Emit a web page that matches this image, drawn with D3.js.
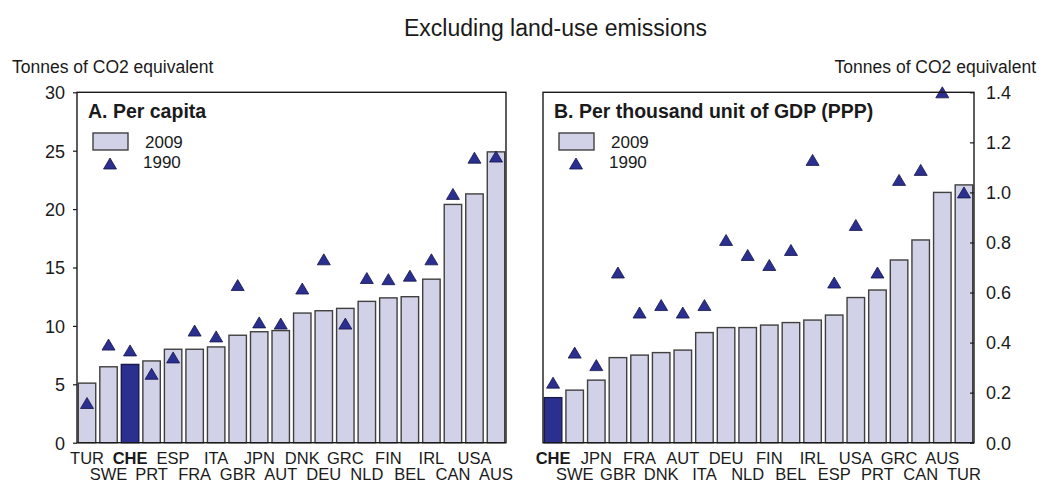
<!DOCTYPE html>
<html><head><meta charset="utf-8">
<script src="https://cdn.jsdelivr.net/npm/d3@7"></script>
<style>
html,body{margin:0;padding:0;background:#fff;}
text{font-family:"Liberation Sans",Arial,sans-serif;fill:#1a1a1a;}
</style></head>
<body><svg id="c" width="1057" height="481"></svg>
<script>
// Panel A: per capita
const catsA = ["TUR","SWE","CHE","PRT","ESP","FRA","ITA","GBR","JPN","AUT","DNK","DEU","GRC","NLD","FIN","BEL","IRL","CAN","USA","AUS"];
const valsA2009 = [5.1,6.5,6.7,7.0,8.0,8.0,8.2,9.2,9.5,9.6,11.1,11.3,11.5,12.1,12.4,12.5,14.0,20.4,21.3,24.9];
const valsA1990 = [3.4,8.4,7.9,5.9,7.3,9.6,9.1,13.5,10.3,10.2,13.2,15.7,10.2,14.1,14.0,14.3,15.7,21.3,24.4,24.5];
const ticksA = [0,5,10,15,20,25,30];
// Panel B: per thousand unit of GDP (PPP)
const catsB = ["CHE","SWE","JPN","GBR","FRA","DNK","AUT","ITA","DEU","NLD","FIN","BEL","IRL","ESP","USA","PRT","GRC","CAN","AUS","TUR"];
const valsB2009 = [0.18,0.21,0.25,0.34,0.35,0.36,0.37,0.44,0.46,0.46,0.47,0.48,0.49,0.51,0.58,0.61,0.73,0.81,1.00,1.03];
const valsB1990 = [0.24,0.36,0.31,0.68,0.52,0.55,0.52,0.55,0.81,0.75,0.71,0.77,1.13,0.64,0.87,0.68,1.05,1.09,1.40,1.00];
const ticksB = [0,0.2,0.4,0.6,0.8,1.0,1.2,1.4];
const highlight = "CHE";
const seriesLabels = ["2009","1990"];
const mainTitle = "Excluding land-use emissions";
const unitLabel = "Tonnes of CO2 equivalent";
const titleA = "A. Per capita";
const titleB = "B. Per thousand unit of GDP (PPP)";

const svg = d3.select("#c");
const barFill = "#d1d1e8", barStroke = "#404040", darkBlue = "#2b2f8f";
const plotTop = 92.3, plotBottom = 442.7;

svg.append("text").attr("x",555.5).attr("y",36).attr("text-anchor","middle")
  .style("font-size","23px").text(mainTitle);

function tri(cx, cy, w, h){
  return `M${cx},${cy-h/2}L${cx+w/2},${cy+h/2}L${cx-w/2},${cy+h/2}Z`;
}

function panel(cats, v2009, v1990, ticks, x0, x1, ymax, side, title, fmt){
  const x = d3.scaleBand().domain(cats).range([x0,x1]).paddingInner(0.19).paddingOuter(0.06);
  const y = d3.scaleLinear().domain([0,ymax]).range([plotBottom,plotTop]);
  const g = svg.append("g");
  g.selectAll("rect.bar").data(cats).join("rect").attr("class","bar")
    .attr("x",d=>x(d)).attr("width",x.bandwidth())
    .attr("y",(d,i)=>y(v2009[i])).attr("height",(d,i)=>y(0)-y(v2009[i]))
    .attr("fill",d=>d===highlight?darkBlue:barFill)
    .attr("stroke",d=>d===highlight?"#1a1a4a":barStroke).attr("stroke-width",1.4);
  g.selectAll("path.tri").data(cats).join("path").attr("class","tri")
    .attr("d",(d,i)=>tri(x(d)+x.bandwidth()/2, y(v1990[i]), 13, 11))
    .attr("fill",darkBlue).attr("stroke","#15154a").attr("stroke-width",0.8);
  g.append("rect").attr("x",x0).attr("y",plotTop).attr("width",x1-x0).attr("height",plotBottom-plotTop)
    .attr("fill","none").attr("stroke","#1a1a1a").attr("stroke-width",1.4);
  if(side==="left"){
    const ax = d3.axisLeft(y).tickValues(ticks).tickSize(4).tickFormat(fmt);
    const a = g.append("g").attr("transform",`translate(${x0},0)`).call(ax);
    a.select(".domain").remove();
    a.selectAll("text").style("font-size","18px").attr("x",-12).attr("dy","0.35em");
  } else {
    const ax = d3.axisRight(y).tickValues(ticks).tickSize(-4).tickFormat(fmt);
    const a = g.append("g").attr("transform",`translate(${x1},0)`).call(ax);
    a.select(".domain").remove();
    a.selectAll("text").style("font-size","18px").attr("x",12).attr("dy","0.35em");
  }
  g.selectAll("g.tick line").attr("stroke","#1a1a1a").attr("stroke-width",1.2);
  g.selectAll("text.xl").data(cats).join("text").attr("class","xl")
    .attr("x",d=>x(d)+x.bandwidth()/2)
    .attr("y",(d,i)=>i%2===0?464:479.5)
    .attr("text-anchor","middle")
    .style("font-size","16.5px")
    .style("font-weight",d=>d===highlight?"bold":"normal")
    .text(d=>d);
  g.append("text").attr("x",x0+11).attr("y",118).style("font-size","19.5px").style("font-weight","bold").text(title);
  g.append("rect").attr("x",x0+16).attr("y",133).attr("width",35).attr("height",17)
    .attr("fill",barFill).attr("stroke",barStroke).attr("stroke-width",1.4);
  g.append("text").attr("x",x0+68).attr("y",148).style("font-size","17px").text(seriesLabels[0]);
  g.append("path").attr("d",tri(x0+33,163.5,13,11)).attr("fill",darkBlue).attr("stroke","#15154a").attr("stroke-width",0.8);
  g.append("text").attr("x",x0+66).attr("y",168).style("font-size","17px").text(seriesLabels[1]);
}

panel(catsA, valsA2009, valsA1990, ticksA, 77, 506, 30, "left", titleA, d3.format("d"));
panel(catsB, valsB2009, valsB1990, ticksB, 543, 974, 1.4, "right", titleB, d3.format(".1f"));

svg.append("text").attr("x",12).attr("y",73).style("font-size","17.5px").text(unitLabel);
svg.append("text").attr("x",1036).attr("y",73).attr("text-anchor","end").style("font-size","17.5px").text(unitLabel);
</script>
</body></html>
